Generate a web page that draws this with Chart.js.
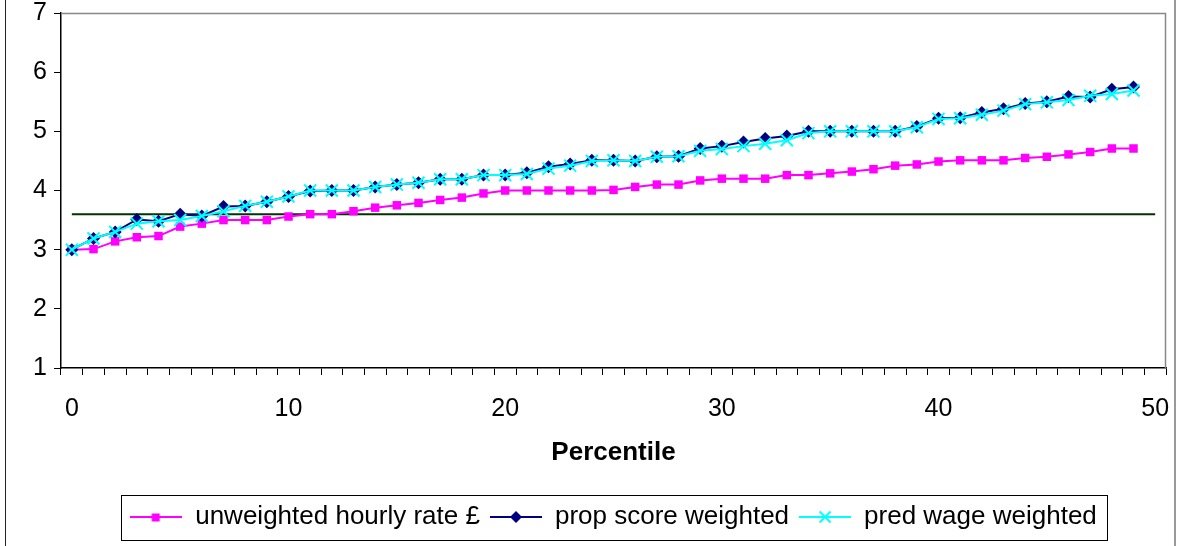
<!DOCTYPE html>
<html>
<head>
<meta charset="utf-8">
<script src="https://cdn.jsdelivr.net/npm/chart.js@4"></script>
<style>
  html, body { margin: 0; padding: 0; background: #fff; }
  #wrap { width: 1181px; height: 546px; position: relative; }
</style>
</head>
<body>
<div id="wrap"><canvas id="chart"></canvas></div>
<script>
// percentiles 0..50 on the category axis (data runs 0..49)
var percentiles = Array.from({ length: 51 }, function (_, i) { return String(i); });

var unweighted = [3.00, 3.01, 3.14, 3.21, 3.23, 3.39, 3.44, 3.50, 3.50, 3.50,
  3.56, 3.60, 3.60, 3.65, 3.71, 3.75, 3.79, 3.84, 3.88, 3.95,
  4.00, 4.00, 4.00, 4.00, 4.00, 4.01, 4.06, 4.10, 4.10, 4.17,
  4.20, 4.20, 4.20, 4.26, 4.26, 4.29, 4.32, 4.36, 4.42, 4.44,
  4.49, 4.51, 4.51, 4.51, 4.55, 4.57, 4.61, 4.65, 4.71, 4.71];

var propScore = [3.00, 3.19, 3.30, 3.51, 3.48, 3.60, 3.57, 3.73, 3.74, 3.81,
  3.90, 3.99, 4.00, 4.00, 4.06, 4.10, 4.13, 4.19, 4.19, 4.26,
  4.26, 4.30, 4.40, 4.45, 4.51, 4.51, 4.50, 4.57, 4.58, 4.71,
  4.75, 4.82, 4.88, 4.92, 5.00, 5.00, 5.00, 5.00, 5.00, 5.08,
  5.22, 5.23, 5.32, 5.38, 5.47, 5.50, 5.59, 5.58, 5.71, 5.75];

var predWage = [3.00, 3.19, 3.30, 3.44, 3.48, 3.50, 3.57, 3.65, 3.74, 3.81,
  3.90, 4.00, 4.00, 4.00, 4.06, 4.10, 4.13, 4.19, 4.19, 4.26,
  4.26, 4.28, 4.37, 4.42, 4.50, 4.51, 4.50, 4.57, 4.58, 4.67,
  4.70, 4.75, 4.79, 4.85, 4.97, 5.00, 5.00, 5.00, 5.00, 5.07,
  5.21, 5.22, 5.28, 5.35, 5.46, 5.49, 5.53, 5.60, 5.63, 5.69];

// flat reference level (dark green line)
var refLevel = 3.6;
var refLine = percentiles.map(function () { return refLevel; });

var seriesNames = ['unweighted hourly rate \u00a3', 'prop score weighted', 'pred wage weighted'];
var seriesColors = ['#ff00ff', '#000080', '#00ffff'];

var FONT = "'Liberation Sans', Arial, sans-serif";

// little line+marker pictures for the legend, like excel draws them
function legendSwatch(color, style) {
  var c = document.createElement('canvas');
  c.width = 52; c.height = 16;
  var g = c.getContext('2d');
  g.strokeStyle = color; g.fillStyle = color; g.lineWidth = 2;
  g.beginPath(); g.moveTo(0, 8); g.lineTo(52, 8); g.stroke();
  if (style === 'rect') {
    g.fillRect(21.5, 4.5, 8, 8);
  } else if (style === 'rectRot') {
    g.beginPath(); g.moveTo(26, 2); g.lineTo(32, 8); g.lineTo(26, 14); g.lineTo(20, 8); g.closePath(); g.fill();
  } else {
    g.beginPath(); g.moveTo(20.5, 2.5); g.lineTo(31.5, 13.5); g.moveTo(31.5, 2.5); g.lineTo(20.5, 13.5); g.stroke();
  }
  return c;
}
var swatches = [legendSwatch(seriesColors[0], 'rect'), legendSwatch(seriesColors[1], 'rectRot'), legendSwatch(seriesColors[2], 'crossRot')];

var framePlugin = {
  id: 'frame',
  afterDraw: function (chart) {
    var ctx = chart.ctx, a = chart.chartArea;
    ctx.save();
    // plot area top/right border
    ctx.strokeStyle = '#888';
    ctx.lineWidth = 1.5;
    ctx.beginPath();
    ctx.moveTo(a.left, a.top + 0.5); ctx.lineTo(a.right - 0.5, a.top + 0.5); ctx.lineTo(a.right - 0.5, a.bottom);
    ctx.stroke();
    // outer chart border (left / right)
    ctx.strokeStyle = '#222';
    ctx.lineWidth = 1;
    ctx.beginPath(); ctx.moveTo(5.5, 0); ctx.lineTo(5.5, 546); ctx.stroke();
    ctx.strokeStyle = '#999';
    ctx.lineWidth = 2;
    ctx.beginPath(); ctx.moveTo(1175, 0); ctx.lineTo(1175, 546); ctx.stroke();
    // box round the legend
    var hb = chart.legend.legendHitBoxes;
    if (hb && hb.length) {
      var first = hb[0], last = hb[hb.length - 1];
      var x0 = first.left - 9, x1 = last.left + last.width + 10;
      var y0 = first.top - 9, y1 = first.top + first.height + 10;
      ctx.strokeStyle = '#000';
      ctx.lineWidth = 1;
      ctx.strokeRect(Math.round(x0) + 0.5, Math.round(y0) + 0.5, Math.round(x1 - x0), Math.round(y1 - y0));
    }
    ctx.restore();
  }
};

var chartInstance = new Chart(document.getElementById('chart'), {
  type: 'line',
  data: {
    labels: percentiles,
    datasets: [{
      label: seriesNames[0],
      data: unweighted,
      borderColor: seriesColors[0],
      backgroundColor: seriesColors[0],
      borderWidth: 2,
      pointStyle: 'rect',
      pointRadius: 6,
      pointBorderWidth: 0,
      order: 2
    }, {
      label: seriesNames[1],
      data: propScore,
      borderColor: seriesColors[1],
      backgroundColor: seriesColors[1],
      borderWidth: 2,
      pointStyle: 'rectRot',
      pointRadius: 6.5,
      pointBorderWidth: 0,
      order: 1
    }, {
      label: seriesNames[2],
      data: predWage,
      borderColor: seriesColors[2],
      backgroundColor: seriesColors[2],
      borderWidth: 2,
      pointStyle: 'crossRot',
      pointRadius: 8.5,
      pointBorderWidth: 2,
      order: 0
    }, {
      label: 'ref',
      data: refLine,
      borderColor: '#003300',
      borderWidth: 2,
      pointRadius: 0,
      order: 3
    }]
  },
  options: {
    responsive: true,
    maintainAspectRatio: false,
    animation: false,
    layout: { padding: { left: 0, right: 15, top: 13, bottom: 6 } },
    plugins: {
      tooltip: { enabled: false },
      legend: {
        position: 'bottom',
        fullSize: false,
        labels: {
          usePointStyle: true,
          pointStyleWidth: 52,
          padding: 10,
          color: '#000',
          font: { family: FONT, size: 26 },
          generateLabels: function (chart) {
            return [0, 1, 2].map(function (i) {
              return {
                text: seriesNames[i],
                pointStyle: swatches[i],
                datasetIndex: i,
                fillStyle: seriesColors[i],
                strokeStyle: seriesColors[i],
                lineWidth: 0,
                hidden: false
              };
            });
          }
        }
      }
    },
    scales: {
      x: {
        type: 'category',
        offset: true,
        afterFit: function (scale) {
          scale.height = 126;
          scale.paddingLeft = 0;
          scale.paddingRight = 0;
        },
        grid: { offset: true, drawOnChartArea: false, color: '#000', tickLength: 7 },
        border: { color: '#000', width: 1.5 },
        ticks: {
          autoSkip: false,
          maxRotation: 0,
          padding: 22,
          color: '#000',
          font: { family: FONT, size: 25, lineHeight: 1 },
          callback: function (value, index) { return index % 10 === 0 ? this.getLabelForValue(value) : ''; }
        },
        title: {
          display: true,
          text: 'Percentile',
          color: '#000',
          font: { family: FONT, size: 26, weight: 'bold', lineHeight: 1.2 },
          padding: { top: 0, bottom: 26 }
        }
      },
      y: {
        min: 1,
        max: 7,
        afterFit: function (scale) {
          scale.width = 61;
          scale.paddingTop = 0;
          scale.paddingBottom = 0;
        },
        grid: { drawOnChartArea: false, color: '#000', tickLength: 7 },
        border: { color: '#000', width: 1.5 },
        ticks: {
          stepSize: 1,
          padding: 7,
          color: '#000',
          font: { family: FONT, size: 25, lineHeight: 1 }
        }
      }
    }
  },
  plugins: [framePlugin]
});
</script>
</body>
</html>
